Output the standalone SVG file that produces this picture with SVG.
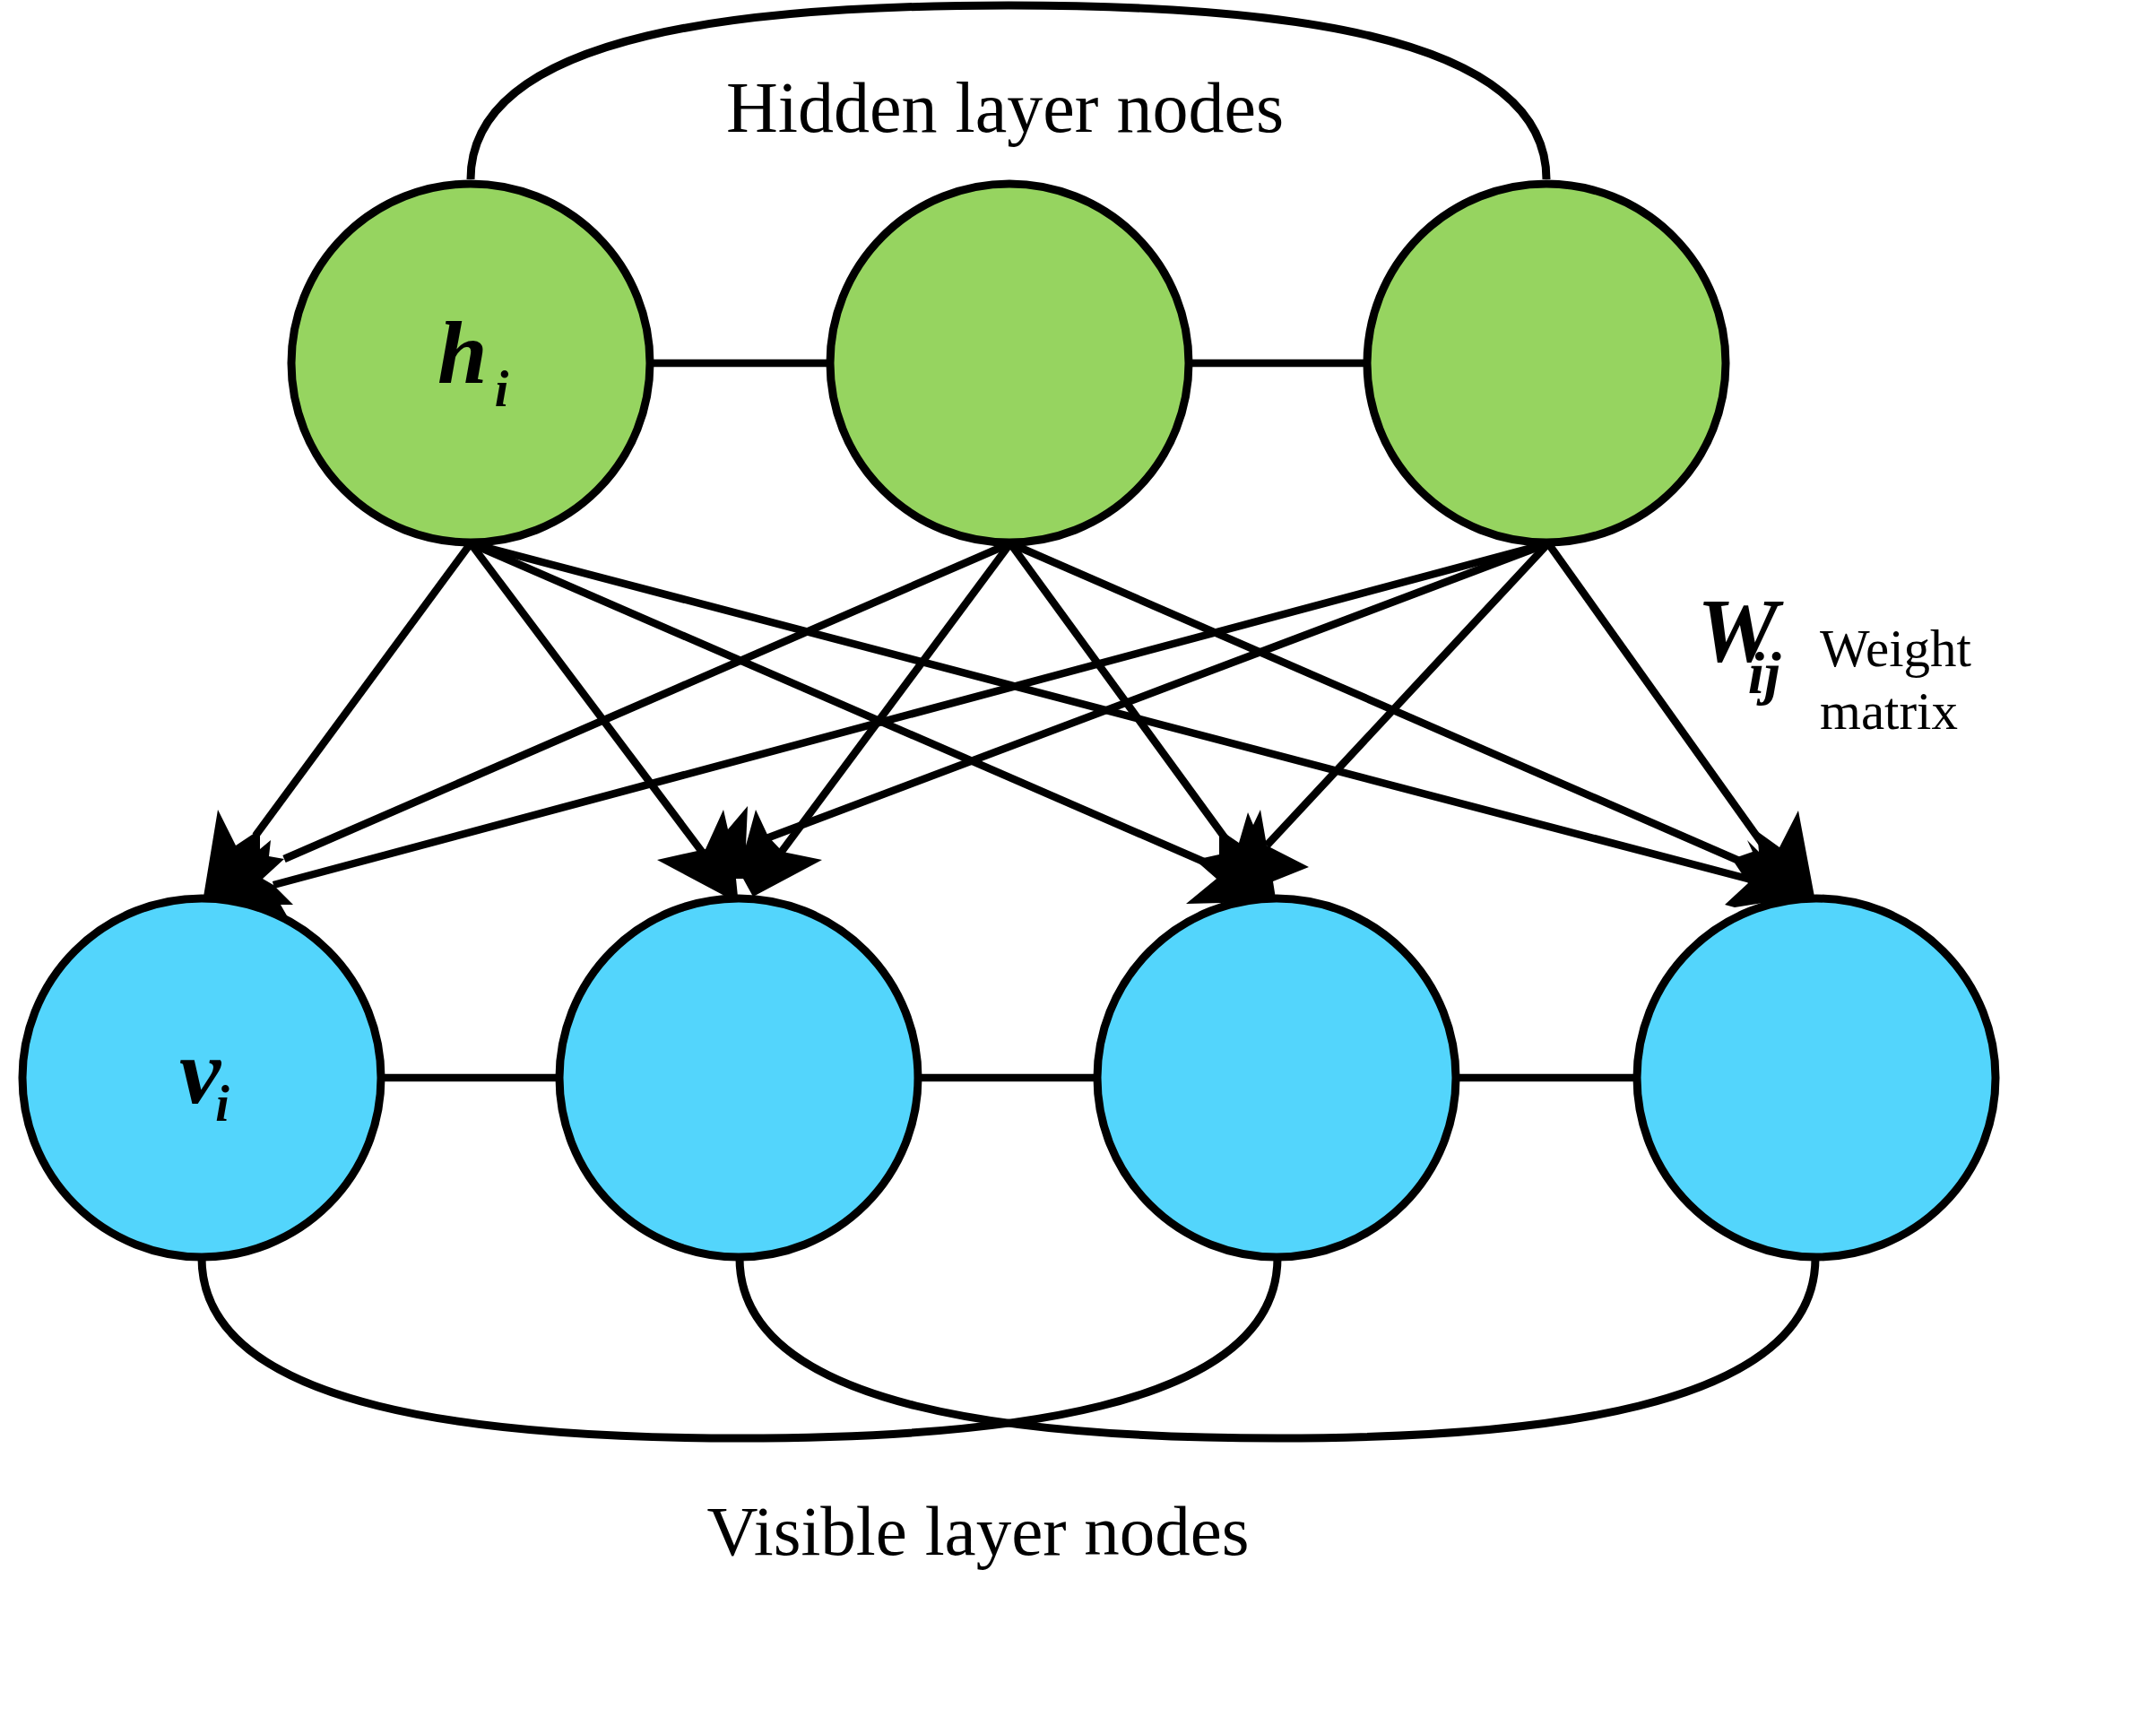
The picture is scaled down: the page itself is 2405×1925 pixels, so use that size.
<svg xmlns="http://www.w3.org/2000/svg" width="2405" height="1925" viewBox="0 0 2405 1925">
<style>
.bg{fill:#ffffff}
.hid{fill:#96D460;stroke:#000;stroke-width:9}
.vis{fill:#53D5FC;stroke:#000;stroke-width:9}
.edge{stroke:#000;stroke-width:8.5;fill:none;stroke-linecap:butt}
.arc{stroke:#000;stroke-width:9;fill:none}
.head{fill:#000;stroke:none}
.lbl{font-family:"Liberation Serif","Times New Roman",serif;fill:#000}
.math{font-family:"Liberation Serif","Times New Roman",serif;font-style:italic;font-weight:bold;fill:#000}
</style>
<rect class="bg" x="0" y="0" width="2405" height="1925"/>
<g id="connectors">
  <path class="arc" d="M525,200 C525,32 850,6 1125,6 C1400,6 1725,32 1725,200"/>
  <path class="arc" d="M225,1403 C225,1575 550,1604 825,1604 C1100,1604 1425,1575 1425,1403"/>
  <path class="arc" d="M825,1403 C825,1575 1150,1604 1425,1604 C1700,1604 2025,1575 2025,1403"/>
  <line class="edge" x1="725" y1="405" x2="927" y2="405"/>
  <line class="edge" x1="1327" y1="405" x2="1525" y2="405"/>
  <line class="edge" x1="425" y1="1202" x2="625" y2="1202"/>
  <line class="edge" x1="1025" y1="1202" x2="1225" y2="1202"/>
  <line class="edge" x1="1625" y1="1202" x2="1825" y2="1202"/>
  <line class="edge" x1="525" y1="606" x2="285" y2="932"/>
  <line class="edge" x1="525" y1="606" x2="792" y2="962"/>
  <line class="edge" x1="525" y1="606" x2="1345" y2="962"/>
  <line class="edge" x1="525" y1="606" x2="1957" y2="982"/>
  <line class="edge" x1="1127" y1="606" x2="317" y2="958"/>
  <line class="edge" x1="1127" y1="606" x2="868" y2="955"/>
  <line class="edge" x1="1127" y1="606" x2="1374" y2="945"/>
  <line class="edge" x1="1127" y1="606" x2="1940" y2="960"/>
  <line class="edge" x1="1727" y1="606" x2="305" y2="987"/>
  <line class="edge" x1="1727" y1="606" x2="855" y2="935"/>
  <line class="edge" x1="1727" y1="606" x2="1413" y2="943"/>
  <line class="edge" x1="1727" y1="606" x2="1965" y2="940"/>
  <polygon class="head" points="227,1000 243,903 263,943 290,925 290,947 302,937 300,955 317,958 293,980 305,987 327,1009 313,1009 325,1030 270,1005 227,1005"/>
  <polygon class="head" points="733,959 787,947 807,903 812,925 834,899 832,943 843,903 857,933 873,950 917,959 840,1000 829,980 821,980 823,1000 810,1000"/>
  <polygon class="head" points="1323,1008 1357,980 1333,959 1360,953 1360,925 1382,940 1392,906 1398,920 1406,903 1413,943 1460,967 1420,983 1423,1002 1363,1007"/>
  <polygon class="head" points="2006,904 2024,1000 1985,1004 1935,1012 1924,1009 1950,985 1940,970 1932,958 1955,950 1949,937 1962,950 1960,927 1985,945"/>
</g>
<g id="h1"><circle class="hid" cx="525" cy="405" r="200"/>
  <text class="math" x="488" y="427" font-size="100">h<tspan dx="8" dy="26" font-size="56">i</tspan></text></g>
<g id="h2"><circle class="hid" cx="1126" cy="405" r="200"/></g>
<g id="h3"><circle class="hid" cx="1725" cy="405" r="200"/></g>
<g id="v1"><circle class="vis" cx="225" cy="1202" r="200"/>
  <text class="math" x="200" y="1230" font-size="104">v<tspan dx="-6" dy="20" font-size="56">i</tspan></text></g>
<g id="v2"><circle class="vis" cx="824" cy="1202" r="200"/></g>
<g id="v3"><circle class="vis" cx="1424" cy="1202" r="200"/></g>
<g id="v4"><circle class="vis" cx="2026" cy="1202" r="200"/></g>
<g id="labels">
  <text class="math" x="1893" y="738" font-size="102">W<tspan dx="-34" dy="35" font-size="66">ij</tspan></text>
  <text class="lbl" x="2030" y="743" font-size="59">Weight</text>
  <text class="lbl" x="2030" y="813" font-size="59">matrix</text>
  <text class="lbl" x="1121" y="147" font-size="80" text-anchor="middle">Hidden layer nodes</text>
  <text class="lbl" x="1091" y="1734" font-size="79" text-anchor="middle">Visible layer nodes</text>
</g>
</svg>
